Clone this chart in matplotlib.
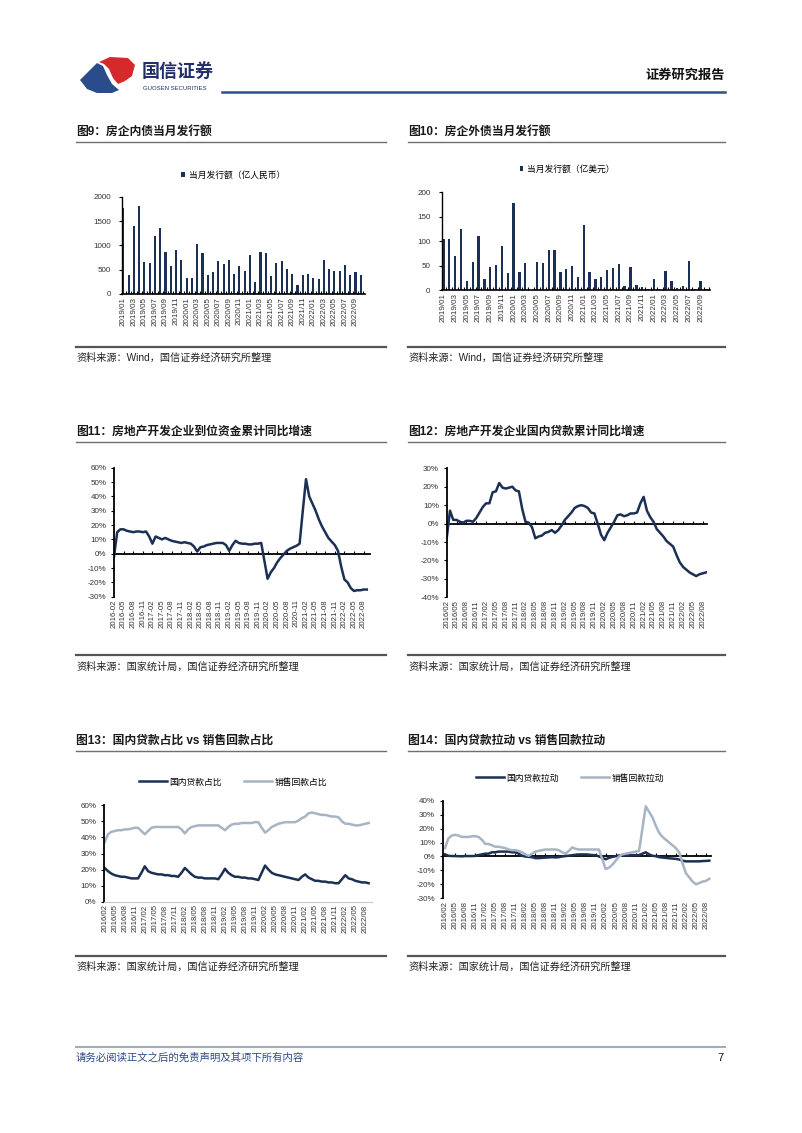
import numpy as np
import pandas as pd
import matplotlib
matplotlib.use("Agg")
import matplotlib.pyplot as plt
from matplotlib.patches import Polygon
from matplotlib.lines import Line2D

plt.rcParams['font.family'] = ['Liberation Sans', 'Noto Sans CJK SC', 'DejaVu Sans']
plt.rcParams['axes.unicode_minus'] = False

# ---- data ----
bond_months = pd.period_range('2019-01', periods=46, freq='M').strftime('%Y/%m').tolist()
bond_cny = [1760, 390, 1390, 1800, 650, 630, 1200, 1360, 860, 580, 910, 700,
            330, 320, 1030, 840, 390, 460, 680, 620, 690, 410, 570, 470,
            810, 250, 870, 840, 370, 640, 670, 510, 420, 190, 400, 420,
            330, 300, 690, 510, 480, 480, 590, 390, 460, 400]
bond_usd = [105, 105, 69, 125, 18, 57, 110, 23, 46, 51, 90, 35,
            177, 37, 56, 1, 57, 55, 81, 81, 37, 43, 48, 27,
            133, 37, 22, 27, 40, 45, 53, 9, 47, 11, 7, 3,
            22, 3, 39, 18, 5, 8, 60, 2, 19, 3]

line_months = pd.period_range('2016-02', '2022-09', freq='M')
labels_dash = line_months.strftime('%Y-%m').tolist()
labels_slash = line_months.strftime('%Y/%m').tolist()

funds_yoy = [-2, 15, 17, 17, 16, 15.5, 15, 15.5, 15.5, 15, 15.5,
             12, 7, 12, 11, 10, 11, 10, 9, 8.5, 8, 7.5, 8,
             7.5, 7, 5, 1.5, 4.5, 5, 6, 6.5, 7, 7.5, 7.5, 7.5,
             6, 2, 6, 9, 7.5, 7, 7, 6.5, 6.5, 7, 7, 7.5,
             -5, -17.5, -13, -10, -6, -3, -0.5, 2, 3.5, 4.5, 5.5, 7,
             30, 52, 40, 35, 30, 24, 19, 15, 11, 8.5, 6, 2,
             -9, -18, -20, -24, -26, -25.5, -25.5, -25, -25]
loan_yoy = [-8, 7, 2, 2, 1, 0.5, 1.5, 1.5, 1, 3, 6,
            9, 11, 11, 17, 17.5, 22, 19.5, 19, 19.5, 20, 18, 17.5,
            8, 1, 0.5, -2, -8, -7, -6.5, -5, -4.5, -3.5, -5, -3.5,
            -1, 2, 4, 6, 8.5, 9.5, 10, 9.5, 8.5, 6, 5.5, 0,
            -6, -9, -5, -2, 1, 4.5, 5, 4, 4.5, 5.5, 5.5, 6,
            11, 14.5, 7, 3.5, 1, -3, -5, -7, -9.5, -11, -12.5, -17,
            -21, -23.5, -25, -26.5, -27.5, -28.5, -27.5, -27, -26.5]
loan_share = [21, 19, 17.5, 16.5, 16, 15.5, 15.5, 15, 14.5, 14.5, 14.5,
              18, 22, 19, 18, 17.5, 17, 17, 16.5, 16.5, 16, 16, 15.5,
              18, 21, 19, 17, 15.5, 15, 15, 14.5, 14.5, 14.5, 14.5, 14,
              17, 20.5, 18, 16.5, 15.5, 15.5, 15, 15, 14.5, 14.5, 14, 13.5,
              18, 22.5, 20, 18, 17, 16.5, 16, 15.5, 15, 14.5, 14, 13.5,
              15.5, 17, 15, 14, 13, 13, 12.5, 12.5, 12, 12, 11.5, 11.5,
              14, 16.5, 14.5, 14, 13, 12.5, 12, 12, 11.5]
sales_share = [37, 42, 43.5, 44, 44.5, 44.5, 45, 45, 45.5, 46, 46,
               44, 42, 44, 46, 46.5, 46.5, 46.5, 46.5, 46.5, 46.5, 46.5, 46.5,
               45, 42.5, 45, 46.5, 47, 47.5, 47.5, 47.5, 47.5, 47.5, 47.5, 47.5,
               46, 44.5, 46.5, 48, 48.5, 48.5, 49, 49, 49, 49, 49.5, 49.5,
               46, 43, 44.5, 46.5, 47.5, 48.5, 49, 49.5, 49.5, 49.5, 49.5, 50.5,
               52, 53, 55, 55.5, 55, 54.5, 54, 54, 53.5, 53, 53, 52.5,
               50, 48.5, 48.5, 48, 47.5, 47.5, 48, 48.5, 49]
loan_pull = [1.5, 0.5, 0.3, 0.3, 0.2, 0.1, 0.3, 0.3, 0.3, 0.4, 1,
             1.5, 2, 2, 3, 3, 3.5, 3.5, 3.5, 3.5, 3, 3, 2,
             0.5, 0, -0.3, -0.5, -1.2, -1.2, -1, -0.8, -0.7, -0.5, -0.7, -0.5,
             0, 0.3, 0.6, 0.9, 1.2, 1.4, 1.5, 1.4, 1.3, 1, 0.9, 0,
             -1, -2, -1, -0.3, 0.2, 0.7, 0.8, 0.7, 0.8, 0.9, 1, 1,
             2, 3, 1.5, 0.5, 0.2, -0.5, -0.8, -1, -1.3, -1.5, -1.7, -2.2,
             -3, -3.5, -3.5, -3.5, -3.5, -3.5, -3.3, -3.2, -3]
sales_pull = [6, 13, 15, 15.5, 15, 14, 14, 14, 14.5, 14.5, 14,
              12, 9, 9, 8, 7, 7, 6.5, 6, 5, 4.5, 4.5, 4,
              3, 1.5, 0.5, 2, 3.5, 4, 4.5, 5, 5, 5, 5, 4.5,
              3, 2, 4, 6.5, 5.5, 5, 5, 5, 5, 5, 5, 5,
              -2, -9, -8, -6, -3, 0, 1.5, 2, 2.5, 3, 3.5, 4,
              20, 36, 32, 28, 22, 17, 14, 12, 10, 8, 6, 3,
              -5, -12, -15, -18, -20, -19, -18, -17.5, -16]

NAVY = '#1c3055'
LIGHT = '#a7b4c3'
TXT = '#333333'
W, H = 802, 1133

fig = plt.figure(figsize=(W / 100, H / 100), dpi=100)


def box(x0, y0, x1, y1):
    return fig.add_axes([x0 / W, 1 - y1 / H, (x1 - x0) / W, (y1 - y0) / H])


def ftext(x, y, s, **kw):
    fig.text(x / W, 1 - y / H, s, **kw)


def hline(x0, x1, y, color, lw):
    fig.add_artist(Line2D([x0 / W, x1 / W], [1 - y / H, 1 - y / H], color=color, lw=lw))


def panel(x0, x1, yt, yu, yb, ys, title, src):
    ftext(x0, yt, title, fontsize=8.5, fontweight='bold', color='#1a1a1a', va='center')
    hline(x0, x1, yu, '#6f6f6f', 1.0)
    hline(x0, x1, yb, '#555555', 1.6)
    ftext(x0, ys, src, fontsize=7.3, color='#222222', va='center')


def bar_chart(ax, vals, ymax, step, legend_label, lx, ly):
    x = np.arange(len(vals))
    ax.bar(x, vals, width=0.4, color=NAVY, label=legend_label)
    ax.set_ylim(0, ymax)
    ax.set_yticks(np.arange(0, ymax + 1, step))
    ax.set_xticks(x[::2])
    ax.set_xticklabels(bond_months[::2], rotation=90, fontsize=5.8, color=TXT)
    ax.set_xticks(x + 0.5, minor=True)
    for s in ['top', 'right']:
        ax.spines[s].set_visible(False)
    ax.spines['left'].set_linewidth(1.0)
    ax.spines['bottom'].set_linewidth(1.2)
    ax.tick_params(axis='y', length=2, width=0.8, labelsize=5.8, labelcolor=TXT, pad=6)
    ax.tick_params(axis='x', which='major', length=0, pad=2)
    ax.tick_params(axis='x', which='minor', direction='in', length=2, width=0.8)
    ax.legend(loc='center', bbox_to_anchor=(lx / W, 1 - ly / H), bbox_transform=fig.transFigure,
              frameon=False, fontsize=6.3, handlelength=0.45, handleheight=0.6, handletextpad=0.4)


def line_axes(ax, ymin, ymax, step, labels, zero_line=True):
    n = len(labels)
    ax.set_ylim(ymin, ymax)
    ax.set_yticks(np.arange(ymin, ymax + 1, step))
    ax.yaxis.set_major_formatter(lambda v, p: f'{v:.0f}%')
    for s in ['top', 'right']:
        ax.spines[s].set_visible(False)
    ax.spines['left'].set_linewidth(1.3)
    ax.set_xticks(range(0, n, 3))
    ax.set_xticklabels(labels[::3], rotation=90, fontsize=5.6, color=TXT)
    ax.tick_params(axis='y', length=2.5, width=0.8, labelsize=5.8, labelcolor=TXT, pad=3)
    ax.tick_params(axis='x', length=0, pad=2)
    if zero_line:
        ax.spines['bottom'].set_visible(False)
        pos = (0 - ymin) / (ymax - ymin)
        sec = ax.secondary_xaxis(pos)
        sec.set_xticks(range(0, n, 3))
        # ticks point upward from the zero line
        sec.tick_params(direction='in' if pos < 0.5 else 'out', length=2.5, width=0.8,
                        labelbottom=False, labeltop=False)
        for s in ['top', 'bottom']:
            sec.spines[s].set_linewidth(1.3)
    else:
        ax.spines['bottom'].set_color('#c8c8c8')
        ax.spines['bottom'].set_linewidth(0.8)


# ---- header ----
blue_logo = [(80, 80), (97, 63), (103, 66), (107, 75), (112, 84), (119, 90), (112, 93), (97, 93), (87, 89)]
red_logo = [(99, 62), (110, 57), (128, 58), (135, 65), (132, 76), (125, 81), (118, 84), (113, 78), (109, 69), (104, 64)]
for pts, c in [(blue_logo, '#2b4c8a'), (red_logo, '#d42a2c')]:
    fig.add_artist(Polygon([(px / W, 1 - py / H) for px, py in pts], closed=True,
                           facecolor=c, edgecolor='none', transform=fig.transFigure))
ftext(142, 72, '国信证券', fontsize=13, fontweight='bold', color='#22306a', va='center')
ftext(143, 88, 'GUOSEN SECURITIES', fontsize=4.3, color='#22306a', va='center')
ftext(725, 76, '证券研究报告', fontsize=9.5, fontweight='bold', color='#111111', va='center', ha='right')
hline(222, 725, 92, '#2e4f8e', 1.8)

# ---- panels ----
src_wind = '资料来源：Wind，国信证券经济研究所整理'
src_nbs = '资料来源：国家统计局，国信证券经济研究所整理'
panel(76, 386, 132, 142, 347, 358, '图9：房企内债当月发行额', src_wind)
panel(408, 725, 132, 142, 347, 358, '图10：房企外债当月发行额', src_wind)
panel(76, 386, 432, 442, 655, 667, '图11：房地产开发企业到位资金累计同比增速', src_nbs)
panel(408, 725, 432, 442, 655, 667, '图12：房地产开发企业国内贷款累计同比增速', src_nbs)
panel(76, 386, 741, 751, 956, 967, '图13：国内贷款占比 vs 销售回款占比', src_nbs)
panel(408, 725, 741, 751, 956, 967, '图14：国内贷款拉动 vs 销售回款拉动', src_nbs)

# ---- 图9 ----
ax9 = box(122, 196.7, 365, 294)
bar_chart(ax9, bond_cny, 2000, 500, '当月发行额（亿人民币）', 233, 175)
ax9.set_xlim(-0.25, 45.8)

# ---- 图10 ----
ax10 = box(441.7, 192, 710, 290)
bar_chart(ax10, bond_usd, 200, 50, '当月发行额（亿美元）', 567, 169)
ax10.set_xlim(-0.3, 45.6)

# ---- 图11 ----
ax11 = box(114, 467.7, 370, 596.7)
ax11.plot(range(len(funds_yoy)), funds_yoy, color=NAVY, lw=1.8)
line_axes(ax11, -30, 60, 10, labels_dash)
ax11.set_xlim(0, 80)

# ---- 图12 ----
ax12 = box(446.7, 468.3, 707, 597.3)
ax12.plot(range(len(loan_yoy)), loan_yoy, color=NAVY, lw=1.8)
line_axes(ax12, -40, 30, 10, labels_slash)
ax12.set_xlim(0, 79.3)

# ---- 图13 ----
ax13 = box(104, 805.3, 372, 901.7)
ax13.plot(range(len(loan_share)), loan_share, color=NAVY, lw=1.8, label='国内贷款占比')
ax13.plot(range(len(sales_share)), sales_share, color=LIGHT, lw=1.8, label='销售回款占比')
line_axes(ax13, 0, 60, 10, labels_slash, zero_line=False)
ax13.set_xlim(-0.2, 80)
ax13.legend(loc='center', bbox_to_anchor=(233 / W, 1 - 782 / H), bbox_transform=fig.transFigure,
            ncol=2, frameon=False, fontsize=6.3, handlelength=3.2, handletextpad=0.3, columnspacing=2.6)

# ---- 图14 ----
ax14 = box(442.7, 800.7, 711, 898.3)
ax14.plot(range(len(loan_pull)), loan_pull, color=NAVY, lw=1.8, label='国内贷款拉动')
ax14.plot(range(len(sales_pull)), sales_pull, color=LIGHT, lw=1.8, label='销售回款拉动')
line_axes(ax14, -30, 40, 10, labels_slash)
ax14.set_xlim(-0.7, 79.5)
ax14.legend(loc='center', bbox_to_anchor=(570 / W, 1 - 778 / H), bbox_transform=fig.transFigure,
            ncol=2, frameon=False, fontsize=6.3, handlelength=3.2, handletextpad=0.3, columnspacing=2.6)

# ---- footer ----
hline(76, 725, 1047, '#a3acbd', 1.5)
ftext(76, 1058, '请务必阅读正文之后的免责声明及其项下所有内容', fontsize=7.5, color='#2a4a8a', va='center', style='italic')
ftext(724, 1058, '7', fontsize=8, color='#111111', va='center', ha='right')

fig.savefig('out.png', dpi=100)
